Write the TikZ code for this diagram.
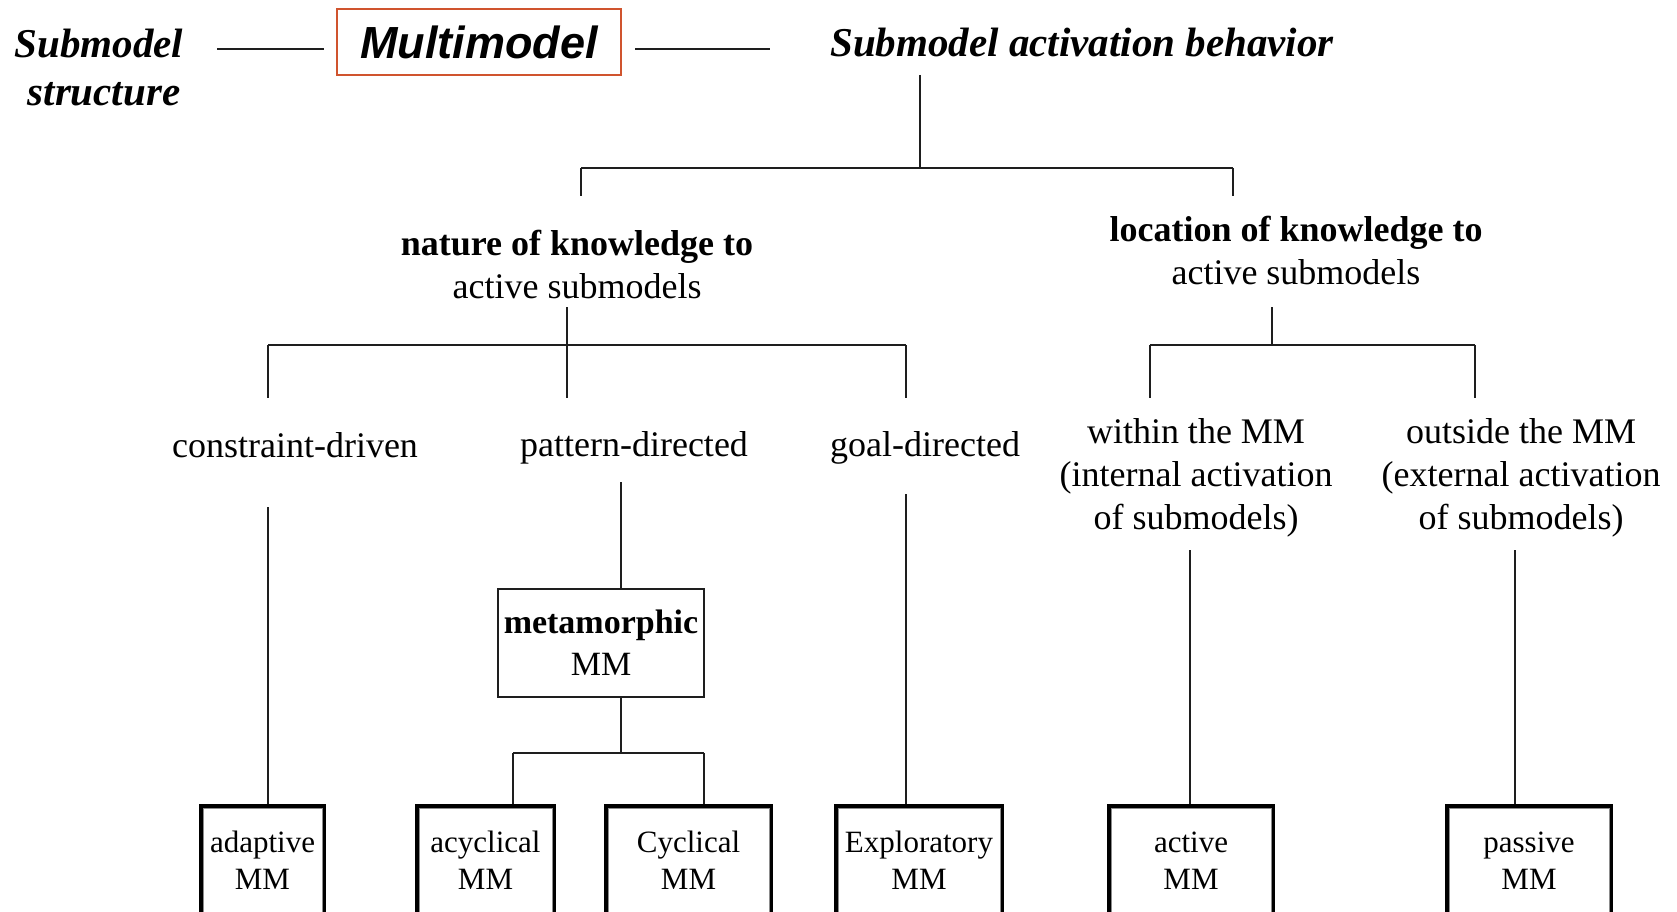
\documentclass[tikz,border=0pt]{standalone}
\usepackage{fontspec}
\setmainfont{Liberation Serif}
\newfontfamily\headsans{Liberation Sans}
\usetikzlibrary{calc}
\definecolor{frameorange}{RGB}{208,84,46}
\definecolor{inkline}{RGB}{30,30,30}
\begin{document}
\begin{tikzpicture}[x=1pt,y=-1pt,
  conn/.style={line width=1.8pt, draw=inkline},
  headline/.style={font=\fontsize{41}{50}\selectfont\bfseries\itshape, align=center, inner sep=0pt},
  txt/.style={font=\fontsize{36}{43}\selectfont, align=center, inner sep=0pt},
  leaf/.style={draw=black, line width=4pt, minimum width=#1, minimum height=109pt,
    anchor=north, align=center, inner sep=0pt, font=\fontsize{31}{37}\selectfont},
  innerrim/.style={draw=black!45, line width=1pt},
]
\useasboundingbox (0,0) rectangle (1677,912);
\clip (0,0) rectangle (1677,912);
\fill[white] (0,0) rectangle (1677,912);

% ---- header row ----
\node[headline] (structure) at (99,68) {Submodel\\[-2pt]\hspace*{10pt}structure};
\node[draw=frameorange, line width=2pt, minimum width=284pt, minimum height=66pt,
      inner sep=0pt, font=\headsans\fontsize{45}{50}\selectfont\bfseries\itshape]
      (mm) at (479,42) {Multimodel};
\node[headline] (behavior) at (1082,43) {Submodel activation behavior};

\coordinate (hl1) at (217,49);
\coordinate (hl2) at (324,49);
\coordinate (hr1) at (635,49);
\coordinate (hr2) at (770,49);
\draw[conn] (hl1) -- (hl2);
\draw[conn] (hr1) -- (hr2);

% ---- second level ----
\node[txt] (nature) at (577,264) {\textbf{nature of knowledge to}\\active submodels};
\node[txt] (location) at (1296,251) {\textbf{location of knowledge to}\\active submodels};

\coordinate (trunkTop) at (920,75);
\coordinate (trunkMid) at (920,168);
\coordinate (splitL) at (581,168);
\coordinate (splitR) at (1233,168);
\draw[conn] (trunkTop) -- (trunkMid);
\draw[conn] (splitL) -- (splitR);
\draw[conn] (splitL) -- (581,196);
\draw[conn] (splitR) -- (1233,196);

% ---- third level ----
\node[txt] (constraint) at (295,445) {constraint-driven};
\node[txt] (pattern) at (634,448) {pattern-directed};
\node[txt] (goal) at (925,448) {goal-directed};
\node[txt] (within) at (1196,478) {within the MM\\(internal activation\\of submodels)};
\node[txt] (outside) at (1521,478) {outside the MM\\(external activation\\of submodels)};

\coordinate (natStem) at (567,307);
\coordinate (natBarL) at (268,345);
\coordinate (natBarR) at (906,345);
\draw[conn] (natStem) -- (567,398);
\draw[conn] (natBarL) -- (natBarR);
\draw[conn] (natBarL) -- (268,398);
\draw[conn] (natBarR) -- (906,398);

\coordinate (locStem) at (1272,307);
\coordinate (locBarL) at (1150,345);
\coordinate (locBarR) at (1475,345);
\draw[conn] (locStem) -- (1272,345);
\draw[conn] (locBarL) -- (locBarR);
\draw[conn] (locBarL) -- (1150,398);
\draw[conn] (locBarR) -- (1475,398);

% ---- metamorphic branch ----
\node[draw=inkline, line width=1.8pt, minimum width=206pt, minimum height=108pt,
      inner sep=0pt, align=center, font=\fontsize{34}{42}\selectfont]
      (meta) at (601,643) {\textbf{metamorphic}\\MM};

% ---- leaves ----
\node[leaf=123pt] (adaptive) at (262.5,804) {adaptive\\MM};
\node[leaf=137pt] (acyclical) at (485.5,804) {acyclical\\MM};
\node[leaf=165pt] (cyclical) at (688.5,804) {Cyclical\\MM};
\node[leaf=166pt] (exploratory) at (919,804) {Exploratory\\MM};
\node[leaf=164pt] (active) at (1191,804) {active\\MM};
\node[leaf=164pt] (passive) at (1529,804) {passive\\MM};
\foreach \b in {adaptive,acyclical,cyclical,exploratory,active,passive}
  \draw[innerrim] ([xshift=4pt,yshift=-4pt]\b.north west) rectangle ([xshift=-4pt,yshift=4pt]\b.south east);

\coordinate (cdTop) at (268,507);
\draw[conn] (cdTop) -- (cdTop |- adaptive.north);

\coordinate (pdTop) at (621,482);
\draw[conn] (pdTop) -- (pdTop |- meta.north);
\coordinate (metaBar) at (621,753);
\draw[conn] (metaBar |- meta.south) -- (metaBar);
\coordinate (mbL) at (513,753);
\coordinate (mbR) at (704,753);
\draw[conn] (mbL) -- (mbR);
\draw[conn] (mbL) -- (mbL |- acyclical.north);
\draw[conn] (mbR) -- (mbR |- cyclical.north);

\coordinate (gdTop) at (906,494);
\draw[conn] (gdTop) -- (gdTop |- exploratory.north);
\coordinate (wiTop) at (1190,550);
\draw[conn] (wiTop) -- (wiTop |- active.north);
\coordinate (ouTop) at (1515,550);
\draw[conn] (ouTop) -- (ouTop |- passive.north);
\end{tikzpicture}
\end{document}
